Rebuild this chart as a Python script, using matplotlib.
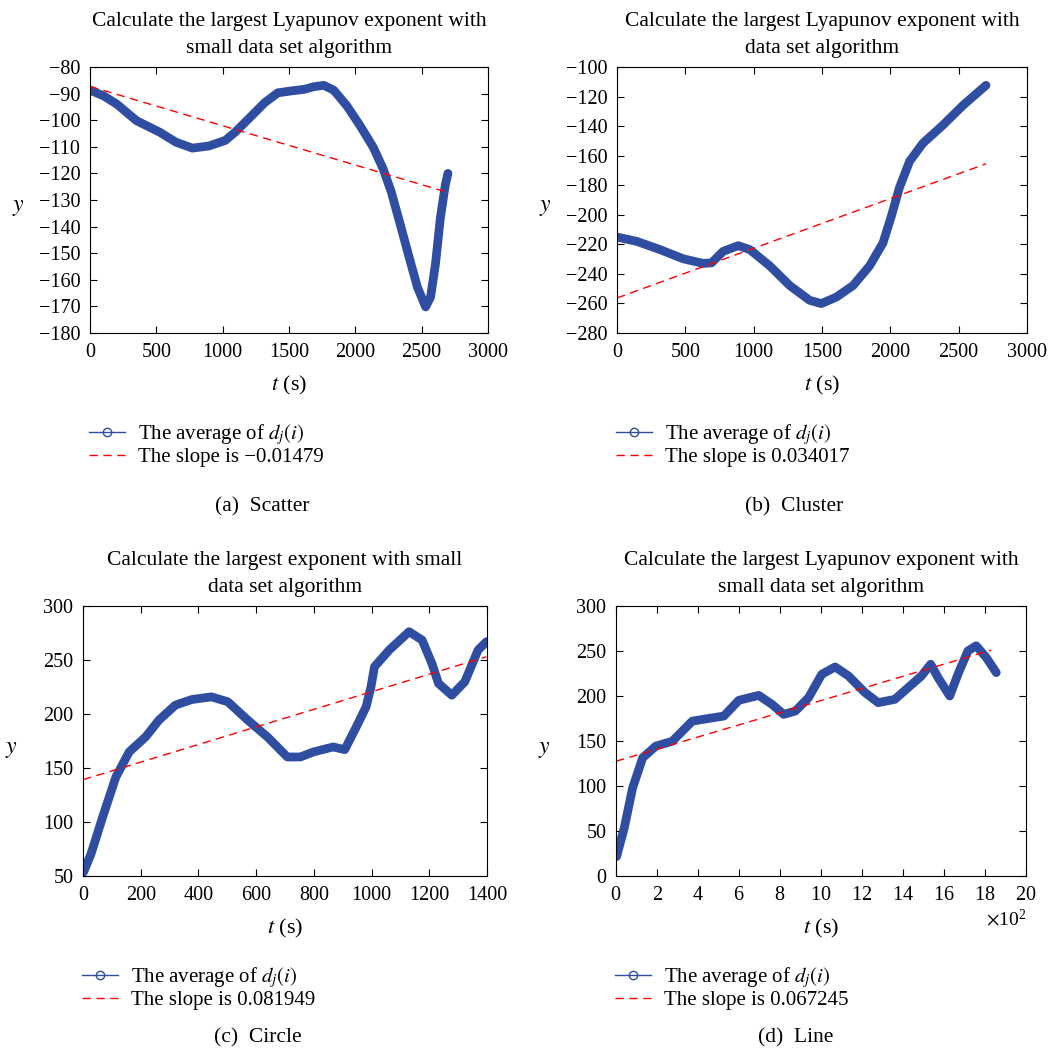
import matplotlib
matplotlib.use("Agg")
import matplotlib.pyplot as plt
from matplotlib.lines import Line2D
from matplotlib.ticker import ScalarFormatter

plt.rcParams['font.family'] = ['Liberation Serif', 'DejaVu Serif']
plt.rcParams['mathtext.fontset'] = 'stix'

# ---- data ----
# (a) Scatter
t_a = [0, 104, 203, 351, 525, 649, 772, 896, 1020, 1094, 1193, 1317, 1416,
       1515, 1614, 1688, 1762, 1837, 1936, 2035, 2134, 2208, 2270, 2332, 2406,
       2468, 2530, 2567, 2604, 2641, 2678, 2698]
y_a = [-88.7, -90.9, -94, -100.2, -104.5, -108.3, -110.5, -109.7, -107.6,
       -104.5, -99.6, -93.4, -89.7, -89, -88.4, -87.4, -86.9, -88.7, -94.6,
       -102, -110.1, -118.1, -126.8, -138, -151.6, -162.8, -170.2, -166.5,
       -154.1, -136.7, -124.4, -120]
fit_a_t = [0, 2700]
fit_a_y = [-87.3, -127.2]

# (b) Cluster
t_b = [0, 145, 315, 485, 631, 692, 777, 887, 972, 1118, 1264, 1410, 1495,
       1605, 1727, 1848, 1946, 2006, 2067, 2141, 2238, 2384, 2530, 2700]
y_b = [-215.1, -218, -223.6, -229.8, -232.9, -232.5, -224.7, -220.9, -223.6,
       -234.6, -247.9, -257.9, -260.1, -255.7, -247.9, -234.6, -219.1,
       -201.4, -181.5, -163.8, -151.6, -139.4, -126.1, -112.4]
fit_b_t = [0, 2700]
fit_b_y = [-256.3, -165.5]

# (c) Circle
t_c = [2, 28, 68, 114, 160, 217, 263, 320, 377, 445, 502, 571, 639, 708, 753,
       799, 867, 907, 947, 981, 998, 1010, 1061, 1130, 1175, 1209, 1232, 1278,
       1323, 1369, 1398]
y_c = [53.6, 70.6, 104.6, 141.7, 164.9, 178.8, 194.3, 208.2, 213.4, 215.9,
       211.3, 194.3, 178.8, 160.2, 160.2, 164.9, 169.5, 167, 188, 206.6,
       225.2, 243.7, 259.2, 276.2, 268.5, 246.8, 228.3, 217.4, 229.8, 259.2,
       266.9]
fit_c_t = [0, 1398]
fit_c_y = [139.2, 253]

# (d) Line
t_d = [3, 40, 81, 130, 194, 275, 324, 372, 453, 526, 599, 696, 761, 818, 875,
       939, 1004, 1069, 1134, 1215, 1279, 1360, 1425, 1490, 1535, 1571, 1628,
       1668, 1717, 1757, 1806, 1855]
y_d = [21.6, 53.2, 97.8, 131.3, 144.3, 149.8, 161, 172.1, 175.1, 177.7, 195.2,
       200.7, 190.7, 179.6, 183.3, 198.1, 224.2, 232.3, 222.3, 203.7, 192.6,
       196.3, 209.3, 222.3, 235.3, 220.4, 200, 224.2, 250.2, 255.8, 242.8, 226]
fit_d_t = [0, 1830]
fit_d_y = [127.5, 250.9]

titles = ["Calculate the largest Lyapunov exponent with\nsmall data set algorithm",
          "Calculate the largest Lyapunov exponent with\ndata set algorithm",
          "Calculate the largest exponent with small\ndata set algorithm",
          "Calculate the largest Lyapunov exponent with\nsmall data set algorithm"]
slopes = ["\u22120.01479", "0.034017", "0.081949", "0.067245"]
captions = ["(a)  Scatter", "(b)  Cluster", "(c)  Circle", "(d)  Line"]

blue = '#2f4ea2'
W, H = 1056, 1050
fig = plt.figure(figsize=(W / 100, H / 100), dpi=100)

# axes boxes in pixels: left, top, right, bottom
boxes = [(90, 67, 488, 333), (617, 67, 1027, 333),
         (83, 606, 487, 876), (616, 606, 1026, 876)]
series = [(t_a, y_a, fit_a_t, fit_a_y), (t_b, y_b, fit_b_t, fit_b_y),
          (t_c, y_c, fit_c_t, fit_c_y), (t_d, y_d, fit_d_t, fit_d_y)]
limits = [((0, 3000), (-180, -80), 500, 10),
          ((0, 3000), (-280, -100), 500, 20),
          ((0, 1400), (50, 300), 200, 50),
          ((0, 2000), (0, 300), 200, 50)]
cap_pos = [(262, 507), (794, 507), (258, 1038), (796, 1038)]

for i in range(4):
    l, t, r, b = boxes[i]
    ax = fig.add_axes([l / W, 1 - b / H, (r - l) / W, (b - t) / H])
    tt, yy, ft, fy = series[i]
    ax.plot(tt, yy, color=blue, lw=6.3, solid_capstyle='round',
            solid_joinstyle='round')
    ax.plot(ft, fy, color='red', lw=1, dashes=(6, 4))
    (x0, x1), (y0, y1), dx, dy = limits[i]
    ax.set_xlim(x0, x1)
    ax.set_ylim(y0, y1)
    ax.set_xticks(range(x0, x1 + 1, dx))
    ax.set_yticks(range(y0, y1 + 1, dy))
    ax.tick_params(direction='in', top=True, right=True, length=5, width=0.8,
                   labelsize=14.5, pad=7)
    for s in ax.spines.values():
        s.set_linewidth(0.8)
    if i == 3:
        fmt = ScalarFormatter(useMathText=True)
        fmt.set_powerlimits((2, 2))
        ax.xaxis.set_major_formatter(fmt)
        ax.xaxis.get_offset_text().set_fontsize(14)
    ax.set_title(titles[i], fontsize=15.5, linespacing=1.55, pad=10)
    ax.set_xlabel(r"$t$ (s)", fontsize=16, labelpad=9)
    ax.set_ylabel(r"$y$", fontsize=17, rotation=0, va='center')
    ax.yaxis.set_label_coords(-72 / (r - l), 0.47)

    handles = [Line2D([], [], color=blue, lw=1, marker='o', markersize=6,
                      markerfacecolor='none'),
               Line2D([], [], color='red', lw=1, dashes=(6, 4))]
    labels = [r"The average of $d_j(i)$", "The slope is " + slopes[i]]
    ax.legend(handles, labels, loc='upper left',
              bbox_to_anchor=(-0.003, -89 / (b - t)),
              frameon=False, borderpad=0, borderaxespad=0, handlelength=1.75,
              handletextpad=0.6, labelspacing=0.02, fontsize=15,
              numpoints=1)
    cx, cy = cap_pos[i]
    fig.text(cx / W, 1 - cy / H, captions[i], ha='center', va='center',
             fontsize=15.5)

fig.savefig("out.png", dpi=100)
